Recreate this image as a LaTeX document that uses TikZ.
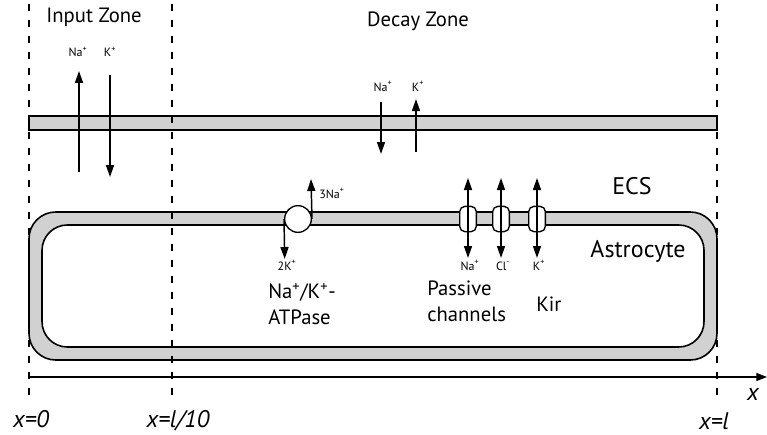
\documentclass[tikz,border=0pt]{standalone}
\usepackage{fontspec}
\setmainfont{PT Sans}
\usepackage{tikz}
\usetikzlibrary{arrows.meta,positioning}

\begin{document}
\begin{tikzpicture}[x=0.75pt, y=-0.75pt,
      zone/.style={dash pattern=on 5pt off 7pt, line width=0.9pt},
      membrane/.style={draw, line width=1.2pt, fill=black!18},
      ion/.style={line width=1.1pt, -{Triangle[length=9pt,width=6pt]}},
      chan/.style={draw, fill=white, line width=1pt, rounded corners=4pt, minimum width=12.5pt, minimum height=19pt, inner sep=0pt},
      small/.style={font=\fontsize{9}{10}\selectfont, inner sep=0pt, anchor=base},
      big/.style={font=\fontsize{15.5}{19.5}\selectfont, align=left, inner sep=0pt},
      huge/.style={font=\fontsize{18}{20}\selectfont, inner sep=0pt, anchor=base},
      axlab/.style={font=\fontsize{18}{20}\selectfont\itshape, inner sep=0pt, anchor=base},
    ]
      \useasboundingbox (0,0) rectangle (767,435);
      % membranes
      \draw[membrane] (29,116) rectangle (717,130);
      \draw[membrane, rounded corners=20pt] (29,212) rectangle (717,360);
      \draw[line width=1.2pt, fill=white, rounded corners=19pt] (42,225) rectangle (704,347);

      % zones
      \node[big, anchor=base] (inzone) at (94,23) {Input Zone};
      \node[big, anchor=base] (dzone) at (418,27) {Decay Zone};
      \foreach \xx/\nm in {29/xa, 172/xb, 717/xc} {
        \coordinate (\nm-top) at (\xx,4);
        \coordinate (\nm-bot) at (\xx,397);
        \draw[zone] (\nm-top) -- (\nm-bot);
      }

      % input zone fluxes
      \node[small] (naIn) at (78,57) {Na\textsuperscript{+}};
      \node[small] (kIn) at (110,57) {K\textsuperscript{+}};
      \coordinate (naInA) at (79,172);
      \coordinate (naInB) at (79,71);
      \coordinate (kInA) at (110,75);
      \coordinate (kInB) at (110,177);
      \draw[ion] (naInA) -- (naInB);
      \draw[ion] (kInA) -- (kInB);

      % decay zone fluxes
      \node[small] (naDec) at (383,91) {Na\textsuperscript{+}};
      \node[small] (kDec) at (418,91) {K\textsuperscript{+}};
      \coordinate (naDecA) at (381,102);
      \coordinate (naDecB) at (381,154);
      \coordinate (kDecA) at (416,152);
      \coordinate (kDecB) at (416,99);
      \draw[ion] (naDecA) -- (naDecB);
      \draw[ion] (kDecA) -- (kDecB);

      % pump
      \node[circle, draw, fill=white, line width=1pt, minimum size=20pt, inner sep=0pt] (atp) at (298,219) {};
      \coordinate (naOut) at (311,179);
      \coordinate (kInside) at (284.7,259);
      \draw[ion] (atp.east) -- (naOut);
      \draw[ion] (atp.west) -- (kInside);
      \node[small, anchor=base west] (na3) at (319,198) {3Na\textsuperscript{+}};
      \node[small] (k2) at (287,270) {2K\textsuperscript{+}};
      \node[big, anchor=north west] (atpLab) at (268,283) {Na\textsuperscript{+}/K\textsuperscript{+}-\\ATPase};

      % channels
      \foreach \cx/\nm/\ionlab in {468/chNa/Na\textsuperscript{+}, 501/chCl/Cl\textsuperscript{-}, 537/chK/K\textsuperscript{+}} {
        \node[chan] (\nm) at (\cx,219) {};
        \coordinate (\nm-up) at (\cx,178);
        \coordinate (\nm-dn) at (\cx,258);
        \draw[ion, {Triangle[length=9pt,width=6pt]}-{Triangle[length=9pt,width=6pt]}] (\nm-up) -- (\nm-dn);
        \node[small] (\nm-lab) at (\cx+2,270) {\ionlab};
      }
      \node[big, anchor=north west] (pasLab) at (427,281) {Passive\\channels};
      \node[big, anchor=base west] (kirLab) at (536,311) {Kir};

      \node[huge] (ecs) at (632,194) {ECS};
      \node[huge] (astro) at (638,257) {Astrocyte};

      % axis
      \coordinate (ax0) at (29,377);
      \coordinate (axEnd) at (767,377);
      \draw[line width=0.9pt, -{Triangle[length=8pt,width=6pt]}] (ax0) -- (axEnd);
      \node[axlab] (xlab) at (753,400) {x};
      \node[axlab] (lx0) at (31,427) {x=0};
      \node[axlab] (lx10) at (178,427) {x=l/10};
      \node[axlab] (lxl) at (714,429) {x=l};
    \end{tikzpicture}
\end{document}
